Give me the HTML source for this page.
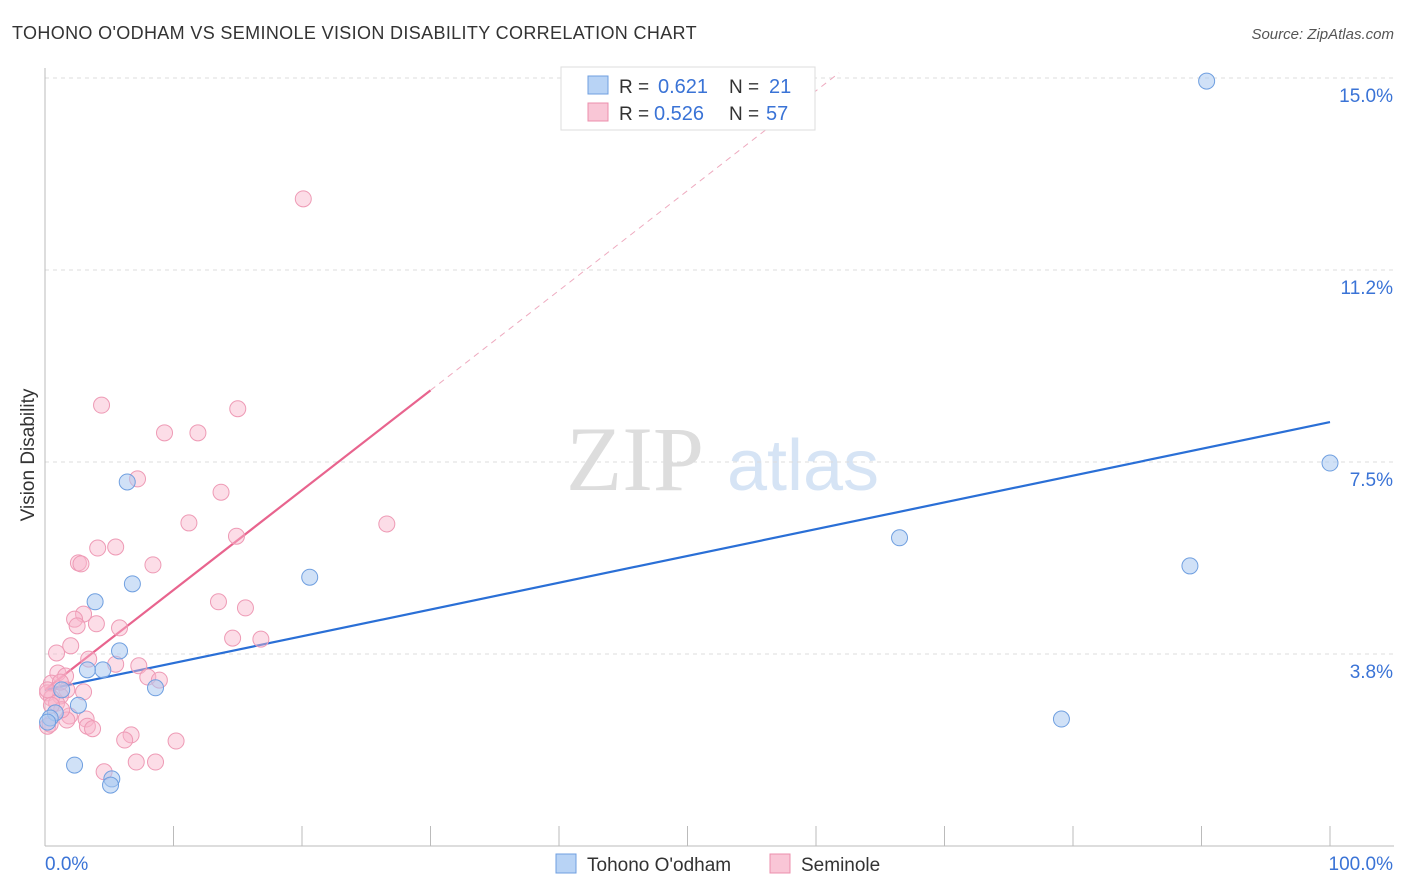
<!DOCTYPE html>
<html><head><meta charset="utf-8"><style>
body{margin:0;background:#fff;font-family:"Liberation Sans",sans-serif;}
svg{display:block}
</style></head><body>
<svg id="chart" width="1406" height="892">
<text x="12" y="39" font-size="18" letter-spacing="0.35" fill="#333">TOHONO O'ODHAM VS SEMINOLE VISION DISABILITY CORRELATION CHART</text>
<text x="1394" y="39" font-size="15" fill="#555" font-style="italic" text-anchor="end">Source: ZipAtlas.com</text>
<text x="34" y="455" font-size="19" fill="#333" text-anchor="middle" transform="rotate(-90 34 455)">Vision Disability</text>
<text x="635" y="490" font-size="92" fill="#ddd" font-family="Liberation Serif,serif" text-anchor="middle">ZIP</text>
<text x="803" y="490" font-size="72" fill="#d6e4f5" text-anchor="middle">atlas</text>
<g id="grid"></g><g id="lines"></g><g id="pts"></g>
<g>
<rect x="561" y="67" width="254" height="63" fill="#fff" stroke="#ddd"/>
<rect x="588" y="76" width="20" height="18" fill="#b8d3f5" stroke="#6f9fe0"/>
<rect x="588" y="103" width="20" height="18" fill="#f9c6d6" stroke="#ec8fac"/>
<text x="619" y="93" font-size="19" fill="#333">R =</text>
<text x="658" y="93" font-size="20" fill="#3a73d6">0.621</text>
<text x="729" y="93" font-size="19" fill="#333">N =</text>
<text x="769" y="93" font-size="20" fill="#3a73d6">21</text>
<text x="619" y="120" font-size="19" fill="#333">R =</text>
<text x="654" y="120" font-size="20" fill="#3a73d6">0.526</text>
<text x="729" y="120" font-size="19" fill="#333">N =</text>
<text x="766" y="120" font-size="20" fill="#3a73d6">57</text>
</g>
<g>
<rect x="556" y="854" width="20" height="19" fill="#b8d3f5" stroke="#6f9fe0"/>
<text x="587" y="871" font-size="19" fill="#333">Tohono O'odham</text>
<rect x="770" y="854" width="20" height="19" fill="#f9c6d6" stroke="#ec8fac"/>
<text x="801" y="871" font-size="19" fill="#333">Seminole</text>
</g>
</svg>
<script>
const yTicks=[3.75,7.5,11.25,15];
const yTickLabels=["3.8%","7.5%","11.2%","15.0%"];
const xTickCount=10;
const blueX=[90.4,100,66.5,89.1,79.1,20.6,6.4,6.8,3.9,5.8,4.5,3.3,8.6,1.3,2.6,0.8,0.4,2.3,5.2,5.1,0.2];
const blueY=[14.94,7.48,6.02,5.47,2.48,5.25,7.11,5.12,4.77,3.81,3.44,3.44,3.09,3.05,2.75,2.60,2.50,1.58,1.31,1.19,2.42];
const pinkX=[20.1,4.4,15.0,9.3,11.9,7.2,13.7,11.2,26.6,14.9,4.1,5.5,2.6,2.8,8.4,13.5,15.6,3.0,2.3,4.0,2.5,5.8,14.6,16.8,2.0,0.9,3.4,5.5,7.3,1.0,1.6,8.0,8.9,0.5,1.7,3.0,0.2,1.2,0.5,0.9,1.9,3.2,1.7,3.3,3.7,0.2,0.4,6.7,6.2,10.2,7.1,8.6,4.6,0.2,1.2,1.3,0.5];
const pinkY=[12.64,8.61,8.54,8.07,8.07,7.17,6.91,6.31,6.29,6.05,5.82,5.84,5.53,5.51,5.49,4.77,4.65,4.53,4.43,4.34,4.30,4.26,4.06,4.04,3.91,3.77,3.65,3.55,3.52,3.38,3.32,3.30,3.24,3.18,3.05,3.01,2.99,2.93,2.89,2.79,2.54,2.48,2.46,2.34,2.29,2.34,2.38,2.17,2.07,2.05,1.64,1.64,1.45,3.05,3.20,2.66,2.75];
const blueFit=[3.05,8.28];
const pinkFit=[3.05,0.195];
const X=v=>45+v*12.85, Y=v=>846-v*51.2;
const NS="http://www.w3.org/2000/svg";
function mk(p,t,a){const e=document.createElementNS(NS,t);for(const k in a)e.setAttribute(k,a[k]);p.appendChild(e);return e;}
const grid=document.getElementById('grid');
yTicks.forEach((t,i)=>{
 const l=mk(grid,'line',{x1:45,x2:1394,y1:Y(t),y2:Y(t),stroke:'#ddd','stroke-dasharray':'4 4'});
 
 
 const tx=mk(grid,'text',{x:1393,y:Y(t)+24,'font-size':19,fill:'#3a73d6','text-anchor':'end'});
 tx.textContent=yTickLabels[i];
 
 
});
mk(grid,'line',{x1:45,x2:45,y1:68,y2:846,stroke:'#bbb'});
mk(grid,'line',{x1:45,x2:1394,y1:846,y2:846,stroke:'#bbb'});
for(let i=0;i<=xTickCount;i++){const t=mk(grid,'line',{x1:X(i*10),x2:X(i*10),y1:826,y2:846,stroke:'#bbb'});
 
 }
const x0=mk(grid,'text',{x:45,y:870,'font-size':19,fill:'#3a73d6'});x0.textContent='0.0%';


const x1=mk(grid,'text',{x:1393,y:870,'font-size':19,fill:'#3a73d6','text-anchor':'end'});x1.textContent='100.0%';


const lines=document.getElementById('lines');
const bl=mk(lines,'line',{x1:X(0),y1:Y(blueFit[0]),x2:X(100),y2:Y(blueFit[1]),stroke:'#2a6fd6','stroke-width':2.2});


const pxEnd=30, pxDash=(15.1-pinkFit[0])/pinkFit[1];
const pl=mk(lines,'line',{x1:X(0),y1:Y(pinkFit[0]),x2:X(pxEnd),y2:Y(pinkFit[0]+pinkFit[1]*pxEnd),stroke:'#e8648e','stroke-width':2.2});


const pd=mk(lines,'line',{x1:X(pxEnd),y1:Y(pinkFit[0]+pinkFit[1]*pxEnd),x2:X(pxDash),y2:Y(pinkFit[0]+pinkFit[1]*pxDash),stroke:'#eeaabf','stroke-width':1,'stroke-dasharray':'6 5'});


const pts=document.getElementById('pts');
pinkX.forEach((v,i)=>{const c=mk(pts,'circle',{cx:X(v),cy:Y(pinkY[i]),r:8,fill:'rgba(248,180,202,0.45)',stroke:'#ee9ab5','stroke-width':1});
 
 });
blueX.forEach((v,i)=>{const c=mk(pts,'circle',{cx:X(v),cy:Y(blueY[i]),r:8,fill:'rgba(170,200,240,0.55)',stroke:'#6f9fe0','stroke-width':1});
 
 });
</script>
</body></html>
